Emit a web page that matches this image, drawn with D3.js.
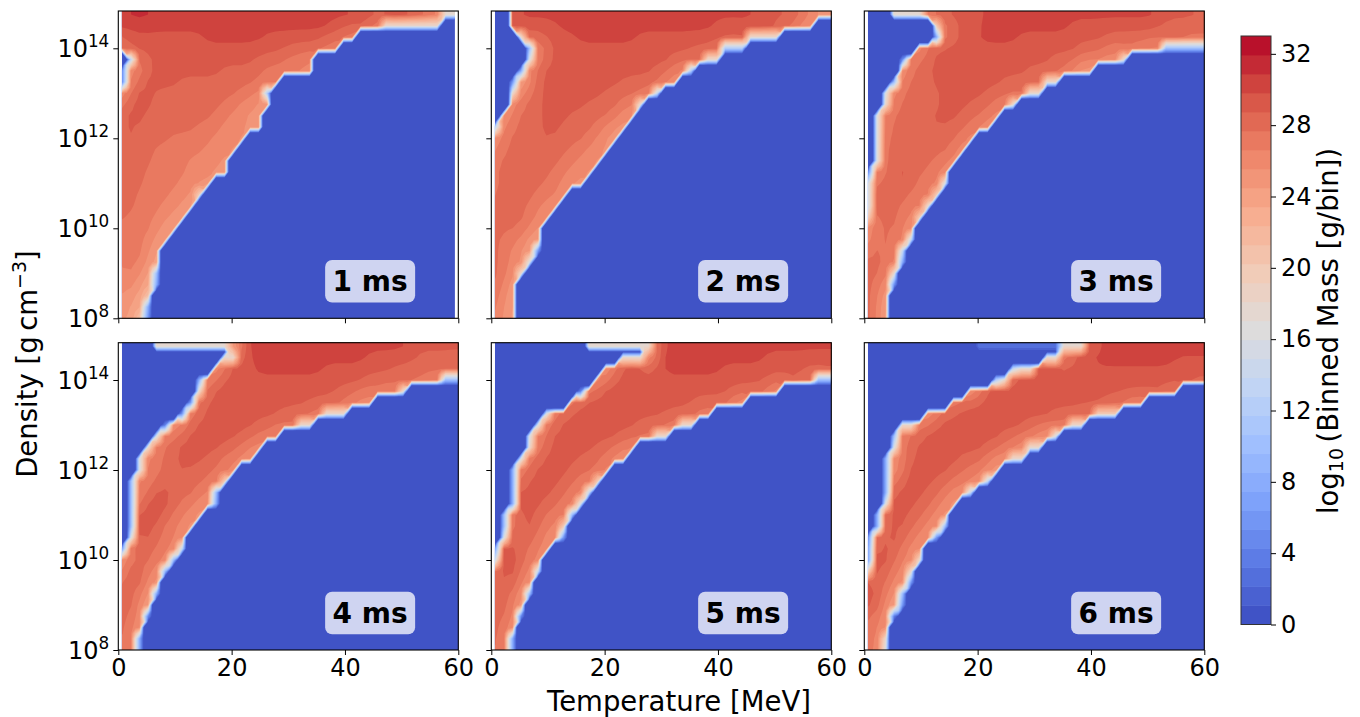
<!DOCTYPE html>
<html><head><meta charset="utf-8">
<style>html,body{margin:0;background:#fff}svg{display:block}text{font-family:"DejaVu Sans",sans-serif;fill:#000}</style>
<script src="https://cdn.jsdelivr.net/npm/d3@7"></script></head><body>
<svg id="c" width="1360" height="717"></svg>
<script>
// Grid: columns are T = 0.75 + 1.5*i MeV (i = 0..39), rows are log10(rho) = 14.75 - 0.25*r (r = 0..27, top row first).
// Each row is a run list: startCol, log10 mass, startCol, log10 mass, ..., firstEmptyCol. Cells outside the runs are 0.
const panelLabels = ["1 ms","2 ms","3 ms","4 ms","5 ms","6 ms"];
const xTicks = [0,20,40,60];
const yTicks = [8,10,12,14];
const colorTicks = [0,4,8,12,16,20,24,28,32];
const coolwarmStops = ["#3b4cc0","#5977e3","#7b9ff9","#9ebeff","#c0d4f5","#dddcdc","#f2cbb7","#f7ac8e","#ee8468","#d65244","#b40426"];
const massMax = 33, bandCount = 31;
const gridStartT = [0.65,0.65,0.65,0.65,0.65,0.65];
const gridEndT = [59.4,60,60,60,60,60];

const mass1ms = [
[0,30,1,31,4,30,30,29,34,28,36,27,37,26,38,18,40],
[0,30,25,29,27,28,29,27,30,25,31,18,38],
[0,28,1,29,10,30,17,29,24,28,26,27,27,26,28],
[0,27,1,28,2,29,20,28,23,27,25,26,26],
[1,14,2,27,3,28,4,29,16,28,19,27,22,26,23],
[0,6,1,25,2,27,3,28,4,29,12,28,17,27,21,26,23],
[0,6,1,26,2,28,3,29,7,28,16,27,18,26,19],
[0,24,1,28,2,29,4,28,14,27,16,26,17,12,18],
[0,27,1,29,4,28,12,27,14,26,16,25,18],
[0,28,1,29,3,28,11,27,13,26,15,25,17],
[0,28,1,29,2,28,9,27,12,26,15,25,17],
[0,28,1,29,2,28,6,27,11,26,14,25,15],
[0,28,1,28.8,2,28,4,27,10,26,13,25,14],
[0,28,4,27,8,26,12,25,13],
[0,28,3,27,8,26,11,25,13],
[0,28,3,27,7,26,9,25,11],
[0,28,2,27,6,26,8,25,9,20,10],
[0,28,2,27,5,26,7,25,9],
[0,28,1,27,4,26,6,25,8],
[0,27,4,26,5,25,6,24,7],
[0,27,3,26,4,25,5,24,6],
[0,27,3,26,4,24,5],
[0,26.6,1,27,2,26.6,3,25.5,4,23,5],
[0,26,1,27,2,26,3,24,4,10,5],
[0,26,2,25,3,22,4,8,5],
[0,25.5,1,25,2,24,3,21,4],
[0,25,2,22,3,8,4],
[0,24.7,1,24,2,21,3,6,4]];

const mass2ms = [
[2,29,3,30,31,29,36,28,37,27,38,25,40],
[2,28,3,29,8,30,26,29,33,28,34,27,36,25,38],
[3,18,4,27,5,28,6,29,10,30,17,29,27,28,30,18,34],
[4,10,5,26,6,27,7,29,24,28,26,27,27,12,30],
[4,16,5,26,6,28,7,29,21,28,23,27,25,18,27],
[3,8,4,26,5,28,6,29,19,28,21,27,22,25,23,12,24],
[2,6,3,22,4,26,5,28,6,29,15,28,19,27,20,26,21,25,22],
[2,18,3,26,4,28,6,29,13,28,17,27,18,26,19,14,20],
[2,25,3,27,4,28,6,29,11,28,15,27,16,26,17,18,18],
[1,25,2,27,3,28,6,29,9,28,14,27,15,26,16,25,17],
[0,14,1,26,2,27,3,28,6,29,8,28,12,27,13,26,14,25.5,15,24.5,16],
[0,25,1,27,2,28,6,29,7,28,11,27,12,26.5,13,25.5,14,24.5,15],
[0,26,1,27.5,2,28,9,27,11,26,13,25,14],
[0,27,1,28,8,27,10,26,12,25,13],
[0,27,1,28,7,27,9,26,11,25,12],
[0,27,1,28,6,27,8,26,9,25,11],
[0,27,1,28,5,27,8,25.5,9],
[0,28,4,27,6,26,7,25,8],
[0,28,4,27,5,26,6,25,7],
[0,28,1,27.5,2,28,3,27,5,25.5,6],
[0,28,1,27,3,26.5,4,25,5,23,6],
[0,28,1,27,2,26.5,3,25.5,4,24,5,6,6],
[0,28,1,27,2,26,3,25,4,16,5],
[0,28,1,27,2,25.5,3,18,4],
[0,28,1,26.5,2,24,3],
[0,27.5,1,26,2,24,3],
[0,27,1,25.5,2,24,3],
[0,27,1,25,2,24,3]];

const mass3ms = [
[3,18,7,26,8,28,9,29,14,30,35,29,39,28.5,40],
[8,20,9,26,10,28,11,29,14,30,24,29,34,28,40],
[8,8,9,26,10,28,11,29,13,30,18,29,28,28,37,27,40],
[6,24,7,28,9,29,25,28,29,27,32,26,34,25,35,10,40],
[4,5,5,26,6,28,8,29,22,28,25,27,27,26,28,25,30,18,31],
[4,24,5,28,8,29,19,28,22,27,24,26,25,24,27],
[3,10,4,26,5,28,8,29,16,28,20,27,21,18,23],
[2,16,3,25,4,28,9,29,14,28,17,27,19,18,21],
[2,18,3,26,4,28,9,29,12,28,15,27,16,26,17,18,18],
[1,16,2,26,3,28,8,29,11,28,14,27,15,25.5,16],
[1,16,2,26,3,28,8,29,9,28,12,27,13,26,14,25,15],
[1,16,2,27,3,28,11,27,12,25.5,13],
[1,16,2,27,3,28,10,27,11,25,12],
[1,16,2,27,3,28,8,27,10,25.5,11],
[0,6,1,25,2,28,4,29.7,5,28,7,27,9,25,10],
[0,16,1,27,2,28,4,29.7,5,28,6,27,8,26,9,16,10],
[0,16,1,28,2,29.5,3,28,5,27,7,26,8,20,9],
[0,16,1,28,4,27,6,26,7,18,8],
[0,20,1,27.5,2,28,4,27,5,26.5,6,20,7],
[0,25,1,27,2,28,3,27.5,4,27,5,24,6],
[0,26,1,27,2,28,3,27,4,26,5,14,6],
[0,26.5,1,28,3,26.5,4,14,5],
[0,28,2,27.5,3,25.5,4,8,5],
[0,28,2,26.5,3,18,4],
[0,28,1,27.5,2,25,3,6,4],
[0,28,1,27,2,24,3],
[0,28,1,27,2,23,3],
[0,28,1,27,2,23,3]];

const mass4ms = [
[4,18,13,22,14,28,15,30,34,29,40],
[12,18,14,27,15,30,29,29,35,28,40],
[11,24,12,27,13,29,16,30,24,29,32,28,39,27,40],
[9,8,10,26,11,28,12,29,29,28,34,27,37,25.5,38,10,40],
[9,18,10,27,11,29,26,28,28,27,31,26,33,18,34],
[8,6,9,26,10,29,23,28,25,27,27,26,29,25,30],
[7,6,8,26,9,28,10,29,19,28,21,27,23,26,24,18,27],
[5,4,6,24,7,26,8,28,9,29,16,28,18,27,21,18,23],
[4,16,5,26,6,28,8,29,14,28,16,27,18,26,19],
[3,18,4,26,5,28,7,29,12,28,14,27,16,25,17],
[2,16,3,26,4,27,5,28,7,29,10,28,12,27,14,26,15,24.5,16],
[2,16,3,26,4,27,5,28,7,29,8,28,11,27,13,25,14],
[1,10,2,26,3,27,4,28,6,28.8,7,28,10,27,12,20,13],
[1,10,2,26,3,28,5,29.7,6,28,9,27,10,26,11,10,12],
[1,10,2,26,3,29.7,6,28,7,27,9,26,10,25,11,8,12],
[1,10,2,28.7,3,29.7,5,28,6,27,8,26,9,24.5,10],
[1,10,2,29.5,4,28,5,27,7,26,8,24.5,9],
[1,16,2,28,3,29.5,4,28,5,27,7,25,8],
[0,8,1,27,2,28,4,27,6,25.5,7,14,8],
[0,24,1,27,2,28,4,27,5,25.5,6,10,7],
[0,26,1,29.7,2,28,3,27,4,25.5,5,10,6],
[0,26.5,1,29.7,2,27.8,3,26.5,4,24,5],
[0,28,2,27,3,25.5,4,8,5],
[0,28,2,26.5,3,22,4],
[0,28,1,27.8,2,26,3,5,4],
[0,28,1,27,2,24,3],
[0,28,1,26,2,8,3],
[0,28,1,26,2,8,3]];

const mass5ms = [
[11,18,19,27,20,30,40],
[15,18,18,22,19,28,20,30,32,29,40],
[13,24,14,27,15,28,16,29,20,30,27,29,37,28,40],
[12,25,13,27,14,29,33,28,37,27,38,10,40],
[10,4,11,25,12,29,29,28,31,27,33,24,34],
[9,25,10,29,24,28,27,27,28,26,29,24,30],
[6,16,7,26,8,28,9,29,21,28,23,27,25,26,26],
[5,16,6,26,7,28,8,29,17,28,19,27,21,26,22,18,24],
[4,16,5,26,6,28,7,29,15,28,17,27,19,18,21],
[4,18,5,26,6,28,7,29,12,28,14,27,16,25.5,17],
[3,16,4,26,5,28,6,29,10,28,13,27,14,26,15,24.5,16],
[2,8,3,26,4,28,5,29,9,28,12,27,13,25.5,14],
[2,8,3,27,4,29,8,28,10,27,11,26,12,20,13],
[2,8,3,28.8,4,29,7,28,9,27,10,25.5,11,14,12],
[2,8,3,29,6,28,8,27,9,25.5,10,16,11],
[1,10,2,25.5,3,29,5,28,6,27,8,26,9,10,10],
[1,10,2,26.5,3,29,4,28.8,5,28,6,27,7,26,8,20,9],
[1,16,2,27,3,29,4,28,5,27,6,26,7,25,8,6,9],
[0,8,1,28,2,29.7,3,28,4,27,6,25.5,7],
[0,16,1,29.7,3,28,4,27,5,25.5,6],
[0,26,1,29.7,2,29,3,27.5,4,26,5,14,6],
[0,27,1,29.7,2,28,3,27,4,24,5],
[0,28,1,28.8,2,27.5,3,25.5,4,10,5],
[0,28,2,27,3,23,4],
[0,28,2,26.5,3,5,4],
[0,28,1,27.5,2,24,3],
[0,28,1,26.5,2,8,3],
[0,28,1,26.5,2,8,3]];

const mass6ms = [
[13,3,23,18,26,27,27,29,28,30,40],
[21,18,23,25,24,28,25,29,26,30.5,36,29.7,40],
[17,14,18,18,20,28,21,29,25,29.5,37,29,40],
[15,12,16,18,17,27,18,29,38,28,40],
[12,22,13,27,14,28,15,29,33,28,36,26,37],
[10,25,11,28,12,29,27,28,29,27,31,25.5,33],
[7,24,8,26,9,28,10,29,22,28.7,23,28,25,27,27,20,30],
[4,18,6,26,7,28,8,29,19,28,21,27,23,26,24,18,26],
[3,10,4,26,5,28,7,29,16,28,18,27,19,26,20,25.5,21,24,22,16,23],
[3,16,4,27,5,28,6,29,14,28,16,27,17,26,18,25,19,18,21],
[2,8,3,25,4,27,5,28.6,6,29,11,28,14,27,15,26,16,25,17,18,19],
[2,8,3,25,4,27,5,29,10,28,12,27,14,25.5,15,24,16],
[2,8,3,26,4,29,8,28,10,27,12,26,13,25,14,14,15],
[2,8,3,28,4,29,7,28,9,27,10,26,11,25,12,14,13],
[2,16,3,29,6,28,8,27,9,26,10,24.5,11],
[1,8,2,27,3,29,5,28,7,27,8,26,9,24.5,10],
[1,8,2,27.5,3,29.6,4,28.5,5,28,6,27,7,26,8,25,9,10,10],
[0,6,1,26.5,2,29,3,29.6,4,28,5,27,6,26,7,25,8,6,9],
[0,8,1,27.5,2,29.7,3,28,4,27,5,26,6,25,7],
[0,8,1,29.7,3,27.7,4,26.6,5,25.5,6,18,7],
[0,20,1,29.3,2,28,3,27,4,26,5,18,6],
[0,28,2,27.5,3,26.5,4,24,5,6,6],
[0,29.7,1,29,2,27,3,25.5,4,10,5],
[0,29.7,1,28,2,26.5,3,22,4,6,5],
[0,27.5,2,25.5,3,4,4],
[0,27.5,1,27,2,24,3],
[0,27,1,26,2,18,3],
[0,27,1,26,2,16,3]];

const panelData = [mass1ms,mass2ms,mass3ms,mass4ms,mass5ms,mass6ms];

const levels = d3.range(bandCount+1).map(k=>k*massMax/bandCount);
const coolwarm = d3.scaleLinear().domain(coolwarmStops.map((_,i)=>i/10)).range(coolwarmStops).interpolate(d3.interpolateRgb);
const bandColor = k=>coolwarm((k+0.5)/bandCount);
const bandWidth = massMax/bandCount;

const nx = 40, ny = 28;
// whole-number readings name the contour band they were read from: use that band's centre
const bandCentre = v => (Number.isInteger(v) && v>=24) ? (Math.floor(v/bandWidth)+0.5)*bandWidth : v;
function decode(rows){
  const v = new Float64Array(nx*ny);
  rows.forEach((run,r)=>{
    const j = ny-1-r;
    for(let a=0;a+2<run.length;a+=2)
      for(let i=run[a];i<run[a+2];i++) v[j*nx+i]=bandCentre(run[a+1]);
  });
  return v;
}
// soften the band boundaries between neighbouring filled cells (edge cells are left alone)
function soften(v){
  const out = Float64Array.from(v);
  for(let j=0;j<ny;j++)for(let i=0;i<nx;i++){
    if(v[j*nx+i]<22) continue;
    let s=0,w=0;
    for(let b=-1;b<=1;b++)for(let a=-1;a<=1;a++){
      const ii=i+a,jj=j+b;
      if(ii<0||jj<0||ii>=nx||jj>=ny) continue;
      const q=v[jj*nx+ii]; if(q<22) continue;
      const wt=(a?1:2)*(b?1:2); s+=q*wt; w+=wt;
    }
    out[j*nx+i]=s/w;
  }
  return out;
}
// half-cell contouring mesh: an empty neighbour keeps the in-between node empty so edges stay crisp,
// except a centre node with three filled corners, which chamfers the stair corners.
// Between the two top rows, two faint cells stay separate thin treads.
const fx = nx*2, fy = ny*2;
function mesh(v){
  const f = new Float64Array(fx*fy);
  const at=(i,j)=>v[Math.min(j,ny-1)*nx+Math.min(i,nx-1)];
  for(let j=0;j<fy;j++)for(let i=0;i<fx;i++){
    const i0=i>>1,j0=j>>1,i1=(i&1)?i0+1:i0,j1=(j&1)?j0+1:j0;
    const c=[at(i0,j0),at(i1,j0),at(i0,j1),at(i1,j1)];
    const filled=c.filter(q=>q>0);
    const centre=(i&1)&&(j&1);
    let val=filled.length===4||(centre&&filled.length===3)?d3.mean(filled):0;
    if(j===2*(ny-2)+1 && d3.max(c)<22) val=0;
    f[j*fx+i]=val;
  }
  return Array.from(f);
}

const svg = d3.select("#c");
const W = 340, H = 307.3;
const lefts = [118.3,491.3,864.3], tops = [11,342.7];
const TICK_FS = 24;
const x = d3.scaleLinear().domain([0,60]).range([0,W]);
const y = d3.scaleLog().domain([1e8,Math.pow(10,8+H/45)]).range([H,0]);
const defs = svg.append("defs");
const contours = d3.contours().size([fx,fy]).thresholds(levels.slice(0,bandCount));

panelData.forEach((rows,p)=>{
  const col = p%3, row = Math.floor(p/3);
  const g = svg.append("g").attr("transform",`translate(${lefts[col]},${tops[row]})`);
  const cid = "clip"+p;
  defs.append("clipPath").attr("id",cid).append("rect")
    .attr("x",x(gridStartT[p])).attr("y",0)
    .attr("width",x(gridEndT[p])-x(gridStartT[p])).attr("height",H);
  const proj = d3.geoTransform({point(cx,cy){
    this.stream.point(x((cx-0.5)*0.75+0.75), y(Math.pow(10,8+(cy-0.5)*0.125)));
  }});
  const path = d3.geoPath(proj);
  g.append("g").attr("clip-path",`url(#${cid})`)
    .selectAll("path").data(contours(mesh(soften(decode(rows))))).join("path")
    .attr("d",path).attr("fill",(d,k)=>bandColor(k)).attr("stroke","none");

  const ax = d3.axisBottom(x).tickValues(xTicks).tickSize(5).tickPadding(4).tickSizeOuter(0);
  if(row===0) ax.tickFormat("");
  const gx = g.append("g").attr("transform",`translate(0,${H})`).call(ax);
  gx.selectAll("text").attr("font-size",TICK_FS);
  gx.select(".domain").remove();

  const ay = d3.axisLeft(y).tickValues(yTicks.map(e=>Math.pow(10,e))).tickSize(5).tickSizeOuter(0).tickFormat("");
  const gy = g.append("g").call(ay);
  gy.select(".domain").remove();
  if(col===0){
    gy.selectAll(".tick").each(function(d){
      const t = d3.select(this).append("text").attr("x",-9).attr("y",0).attr("text-anchor","end");
      t.append("tspan").attr("font-size",TICK_FS).attr("dy",8).text("10");
      t.append("tspan").attr("font-size",TICK_FS*0.7).attr("dy",-10).text(Math.round(Math.log10(d)));
    });
  }
  g.append("rect").attr("width",W).attr("height",H).attr("fill","none").attr("stroke","#000").attr("stroke-width",1.1);

  const bx = x(36.5), bw = 90, bh = 42.5, by = 249;
  g.append("rect").attr("x",bx).attr("y",by).attr("width",bw).attr("height",bh).attr("rx",7)
    .attr("fill","#fff").attr("fill-opacity",0.75);
  g.append("text").attr("x",bx+bw/2).attr("y",by+bh/2+10).attr("text-anchor","middle")
    .attr("font-size",28).attr("font-weight","bold").text(panelLabels[p]);
});

// colour bar
const cbX = 1241, cbW = 30, cbTop = 36, cbBot = 624.5;
const cy = d3.scaleLinear().domain([0,massMax]).range([cbBot,cbTop]);
const cb = svg.append("g");
cb.selectAll("rect").data(d3.range(bandCount)).join("rect")
  .attr("x",cbX).attr("width",cbW)
  .attr("y",k=>cy(levels[k+1])).attr("height",k=>cy(levels[k])-cy(levels[k+1])+0.4)
  .attr("fill",k=>bandColor(k));
cb.append("rect").attr("x",cbX).attr("y",cbTop).attr("width",cbW).attr("height",cbBot-cbTop)
  .attr("fill","none").attr("stroke","#333").attr("stroke-width",1);
const cax = svg.append("g").attr("transform",`translate(${cbX+cbW},0)`)
  .call(d3.axisRight(cy).tickValues(colorTicks).tickSize(5).tickPadding(5).tickSizeOuter(0));
cax.select(".domain").remove();
cax.selectAll("text").attr("font-size",TICK_FS);

// axis titles
svg.append("text").attr("x",679).attr("y",711).attr("text-anchor","middle").attr("font-size",27.5).text("Temperature [MeV]");
const yl = svg.append("text").attr("transform","translate(37,364) rotate(-90)").attr("text-anchor","middle").attr("font-size",27.5);
yl.append("tspan").text("Density [g\u2009cm");
yl.append("tspan").attr("font-size",19).attr("dy",-11).text("\u22123");
yl.append("tspan").attr("dy",11).text("]");
const cl = svg.append("text").attr("transform","translate(1338,331) rotate(-90)").attr("text-anchor","middle").attr("font-size",27.5);
cl.append("tspan").text("log");
cl.append("tspan").attr("font-size",19).attr("dy",5).text("10");
cl.append("tspan").attr("dy",-5).text("\u2009(Binned Mass [g/bin])");
</script></body></html>
